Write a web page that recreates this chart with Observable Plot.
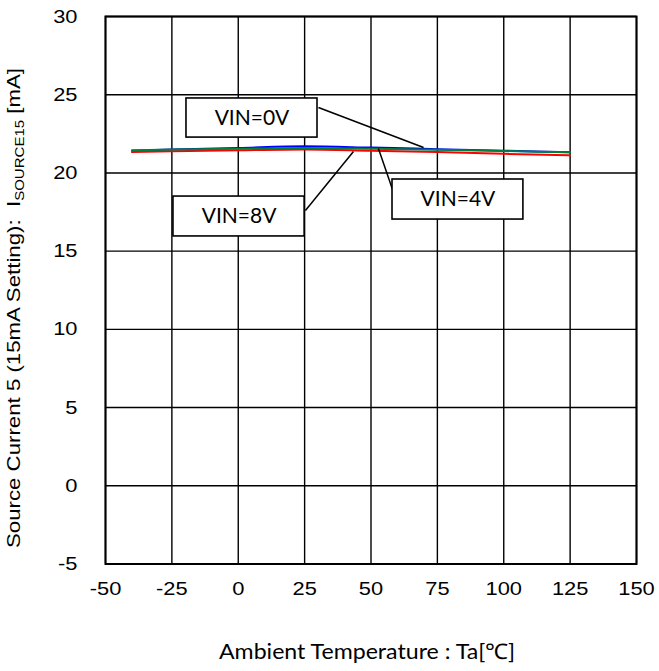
<!DOCTYPE html>
<html>
<head>
<meta charset="utf-8">
<script src="https://cdn.jsdelivr.net/npm/d3@7"></script>
<script src="https://cdn.jsdelivr.net/npm/@observablehq/plot@0.6"></script>
<style>
  html, body { margin: 0; padding: 0; background: #fff; }
  #chart svg { display: block; }
</style>
</head>
<body>
<div id="chart"></div>
<script>
// ---- data ----
const temps = [-40, -25, 0, 25, 50, 75, 100, 125];
const vin0V = [21.42, 21.50, 21.60, 21.70, 21.62, 21.52, 21.42, 21.32];
const vin4V = [21.45, 21.49, 21.55, 21.60, 21.55, 21.48, 21.40, 21.32];
const vin8V = [21.33, 21.38, 21.45, 21.50, 21.42, 21.33, 21.22, 21.12];
const seriesNames = ["VIN=0V", "VIN=4V", "VIN=8V"];
const seriesColors = ["#0000ff", "#008040", "#ff0000"];

const xTicks = [-50, -25, 0, 25, 50, 75, 100, 125, 150];
const yTicks = [-5, 0, 5, 10, 15, 20, 25, 30];

// callouts (data units)
const calloutLabels = ["VIN=0V", "VIN=4V", "VIN=8V"];
const boxLeft   = [-19.5, 58.1, -24.4];
const boxRight  = [29.85, 107.4, 25.0];
const boxTop    = [24.76, 19.58, 18.49];
const boxBottom = [22.26, 17.02, 15.94];
const leaderFromX = [30.2, 58.1, 25.3];
const leaderFromY = [24.18, 18.94, 17.60];
const leaderToX   = [69.8, 52.8, 43.4];
const leaderToY   = [21.63, 21.56, 21.37];

// ---- build tables ----
const seriesValues = [vin0V, vin4V, vin8V];
const drawOrder = [0, 2, 1];
const lineData = drawOrder.flatMap(s => temps.map((t, i) => ({series: seriesNames[s], t, v: seriesValues[s][i]})));
const callouts = calloutLabels.map((label, i) => ({
  label, x1: boxLeft[i], x2: boxRight[i], y1: boxBottom[i], y2: boxTop[i],
  cx: (boxLeft[i] + boxRight[i]) / 2, cy: (boxTop[i] + boxBottom[i]) / 2,
  fx: leaderFromX[i], fy: leaderFromY[i], tx: leaderToX[i], ty: leaderToY[i]
}));

const tickFont = "'Liberation Sans', Arial, sans-serif";
const calloutFont = "Lato, 'Open Sans', sans-serif";
const fmt = d => String(d);

const chart = Plot.plot({
  width: 659,
  height: 671,
  marginTop: 16,
  marginBottom: 107.5,
  marginLeft: 105,
  marginRight: 23,
  style: {fontFamily: tickFont, background: "#fff", overflow: "visible"},
  x: {domain: [-50, 150], ticks: xTicks, label: null},
  y: {domain: [-5, 30], ticks: yTicks, label: null},
  color: {domain: seriesNames, range: seriesColors},
  marks: [
    Plot.gridX(xTicks, {stroke: "#000", strokeOpacity: 1, strokeWidth: 1.4}),
    Plot.gridY(yTicks, {stroke: "#000", strokeOpacity: 1, strokeWidth: 1.4}),
    Plot.frame({stroke: "#000", strokeWidth: 2}),
    Plot.axisX({ticks: xTicks, tickFormat: fmt, tickSize: 0, tickPadding: 17, fontSize: 19, label: null, fill: "#000"}),
    Plot.axisY({ticks: yTicks, tickFormat: fmt, tickSize: 0, tickPadding: 28, fontSize: 19, label: null, fill: "#000"}),
    Plot.line(lineData, {x: "t", y: "v", z: "series", stroke: "series", strokeWidth: 2, curve: "monotone-x"}),
    Plot.link(callouts, {x1: "fx", y1: "fy", x2: "tx", y2: "ty", stroke: "#000", strokeWidth: 1.5}),
    Plot.rect(callouts, {x1: "x1", x2: "x2", y1: "y1", y2: "y2", fill: "#fff", stroke: "#000", strokeWidth: 1.6}),
    Plot.text(callouts, {x: "cx", y: "cy", text: "label", fontSize: 21, fontFamily: calloutFont, fill: "#000"})
  ]
});

document.getElementById("chart").appendChild(chart);

const svg = d3.select(chart);

// widen the tick labels slightly, as in the reference rendering
svg.selectAll("g[aria-label='x-axis tick label'] text, g[aria-label='y-axis tick label'] text").each(function() {
  const w = this.getComputedTextLength();
  this.setAttribute("textLength", (w * 1.15).toFixed(1));
  this.setAttribute("lengthAdjust", "spacingAndGlyphs");
});

// axis titles
svg.append("text")
  .attr("x", 367).attr("y", 659)
  .attr("text-anchor", "middle")
  .attr("font-family", calloutFont)
  .attr("font-size", 21.5)
  .attr("textLength", 296)
  .attr("lengthAdjust", "spacingAndGlyphs")
  .attr("fill", "#000")
  .text("Ambient Temperature : Ta[℃]");

const yt = svg.append("text")
  .attr("transform", "translate(20,308) rotate(-90)")
  .attr("text-anchor", "middle")
  .attr("font-family", tickFont)
  .attr("font-size", 18.5)
  .attr("textLength", 480)
  .attr("lengthAdjust", "spacingAndGlyphs")
  .attr("fill", "#000");
yt.append("tspan").text("Source Current 5 (15mA Setting):  I");
yt.append("tspan").attr("font-size", 12.5).attr("dy", 4).text("SOURCE15");
yt.append("tspan").attr("dy", -4).text(" [mA]");
</script>
</body>
</html>
